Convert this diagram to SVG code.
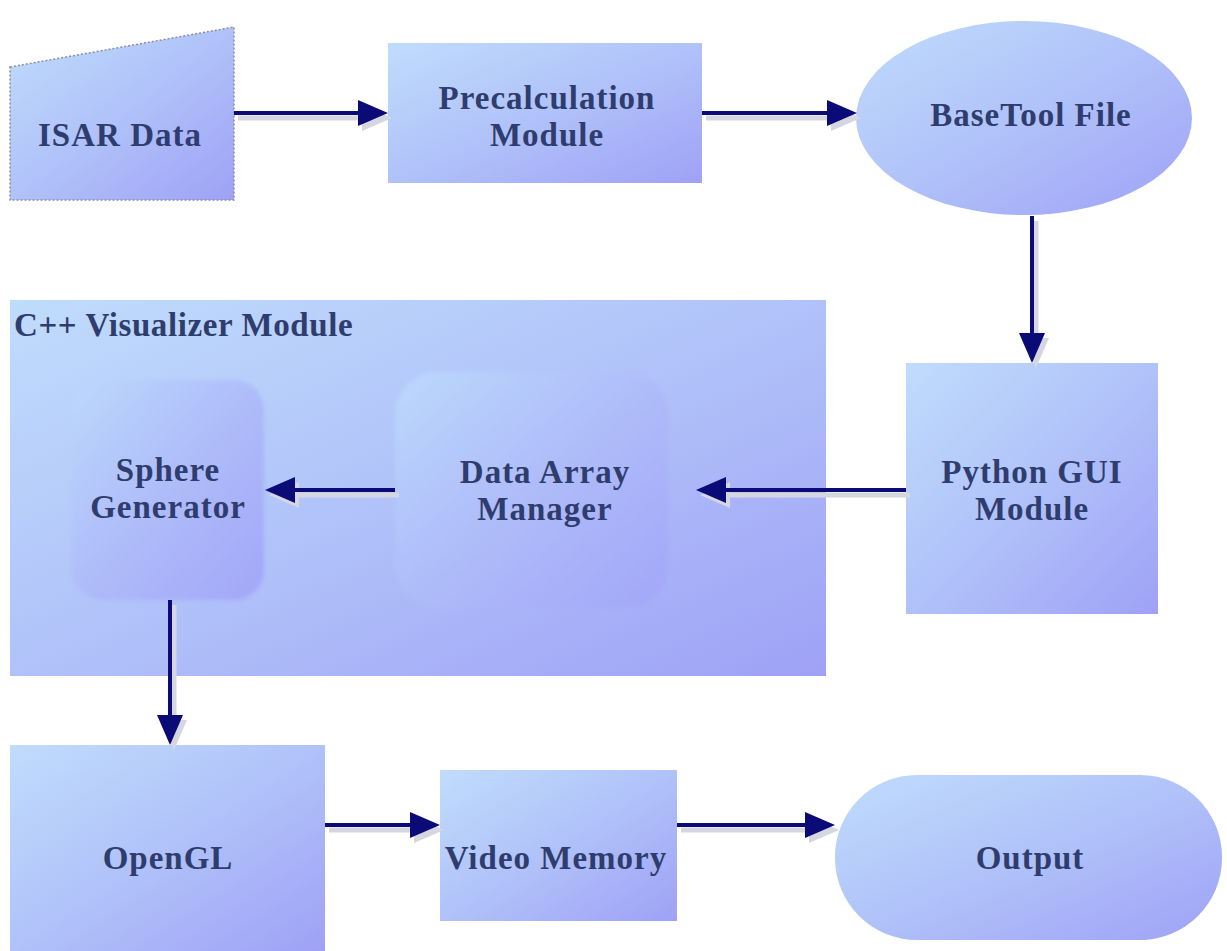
<svg xmlns="http://www.w3.org/2000/svg" width="1227" height="951" viewBox="0 0 1227 951">
  <defs>
    <linearGradient id="fillBlue" x1="0" y1="0" x2="1" y2="1">
      <stop offset="0" stop-color="#c0dcfc"/>
      <stop offset="0.5" stop-color="#b0c2f9"/>
      <stop offset="1" stop-color="#9fa1f6"/>
    </linearGradient>
    <linearGradient id="fillInner" x1="0" y1="0" x2="1" y2="1">
      <stop offset="0" stop-color="#bcd8fc"/>
      <stop offset="0.5" stop-color="#aebcf9"/>
      <stop offset="1" stop-color="#a3a6f8"/>
    </linearGradient>
    <filter id="soft" x="-5%" y="-5%" width="110%" height="110%">
      <feGaussianBlur stdDeviation="2"/>
    </filter>
    <marker id="head" markerUnits="userSpaceOnUse" markerWidth="30" markerHeight="26" refX="0" refY="13" orient="auto" overflow="visible">
      <path d="M0,0 L30,13 L0,26 z" fill="#0b0b78"/>
    </marker>
    <marker id="headShadow" markerUnits="userSpaceOnUse" markerWidth="30" markerHeight="26" refX="0" refY="13" orient="auto" overflow="visible">
      <path d="M0,0 L30,13 L0,26 z" fill="#d6d6e0"/>
    </marker>
  </defs>
  <style>
    .box { fill: url(#fillBlue); }
    .inner { fill: url(#fillInner); filter: url(#soft); }
    .label { font-family: "Liberation Serif", "Times New Roman", serif; font-weight: bold; font-size: 33px; fill: #2f3d6e; letter-spacing: 1px; text-anchor: middle; }
    .title { text-anchor: start; letter-spacing: 0.6px; }
    .wire { fill: none; stroke: #0b0b78; stroke-width: 4; marker-end: url(#head); }
    .wireShadow { fill: none; stroke: #d6d6e0; stroke-width: 5; marker-end: url(#headShadow); }
  </style>

  <rect width="1227" height="951" fill="#ffffff"/>

  <!-- input data -->
  <g id="isar-data">
    <polygon class="box" points="10,67 234,27 234,200 10,200" stroke="#8e8e9c" stroke-width="1.5" stroke-dasharray="2 2"/>
    <text class="label" x="120" y="146">ISAR Data</text>
  </g>

  <g id="precalculation-module">
    <rect class="box" x="388" y="43" width="314" height="140"/>
    <text class="label" x="547" y="109">Precalculation</text>
    <text class="label" x="547" y="146">Module</text>
  </g>

  <g id="basetool-file">
    <ellipse class="box" cx="1024" cy="118" rx="168" ry="97"/>
    <text class="label" x="1031" y="126">BaseTool File</text>
  </g>

  <g id="python-gui-module">
    <rect class="box" x="906" y="363" width="252" height="251"/>
    <text class="label" x="1032" y="483">Python GUI</text>
    <text class="label" x="1032" y="520">Module</text>
  </g>

  <!-- visualizer container with its two stages -->
  <g id="cpp-visualizer-module">
    <rect class="box" x="10" y="300" width="816" height="376"/>
    <text class="label title" x="14" y="336">C++ Visualizer Module</text>
  </g>

  <g id="sphere-generator">
    <rect class="inner" x="72" y="380" width="192" height="220" rx="30"/>
    <text class="label" x="168" y="481">Sphere</text>
    <text class="label" x="168" y="518">Generator</text>
  </g>

  <g id="data-array-manager">
    <rect class="inner" x="395" y="372" width="273" height="236" rx="42"/>
    <text class="label" x="545" y="483">Data Array</text>
    <text class="label" x="545" y="520">Manager</text>
  </g>

  <!-- rendering path -->
  <g id="opengl">
    <rect class="box" x="10" y="745" width="315" height="206"/>
    <text class="label" x="168" y="869">OpenGL</text>
  </g>

  <g id="video-memory">
    <rect class="box" x="440" y="770" width="237" height="151"/>
    <text class="label" x="556" y="869">Video Memory</text>
  </g>

  <g id="output">
    <rect class="box" x="835" y="775" width="387" height="165" rx="82" ry="82"/>
    <text class="label" x="1030" y="869">Output</text>
  </g>

  <!-- connectors: drop shadow first, then the line -->
  <g id="connectors">
    <g transform="translate(4,5)">
      <path class="wireShadow" d="M234,113 H358"/>
      <path class="wireShadow" d="M702,113 H827"/>
      <path class="wireShadow" d="M1032,216 V333"/>
      <path class="wireShadow" d="M906,490 H726"/>
      <path class="wireShadow" d="M395,490 H295"/>
      <path class="wireShadow" d="M170,600 V715"/>
      <path class="wireShadow" d="M325,825 H410"/>
      <path class="wireShadow" d="M677,825 H805"/>
    </g>
    <path class="wire" d="M234,113 H358"/>
    <path class="wire" d="M702,113 H827"/>
    <path class="wire" d="M1032,216 V333"/>
    <path class="wire" d="M906,490 H726"/>
    <path class="wire" d="M395,490 H295"/>
    <path class="wire" d="M170,600 V715"/>
    <path class="wire" d="M325,825 H410"/>
    <path class="wire" d="M677,825 H805"/>
  </g>
</svg>
